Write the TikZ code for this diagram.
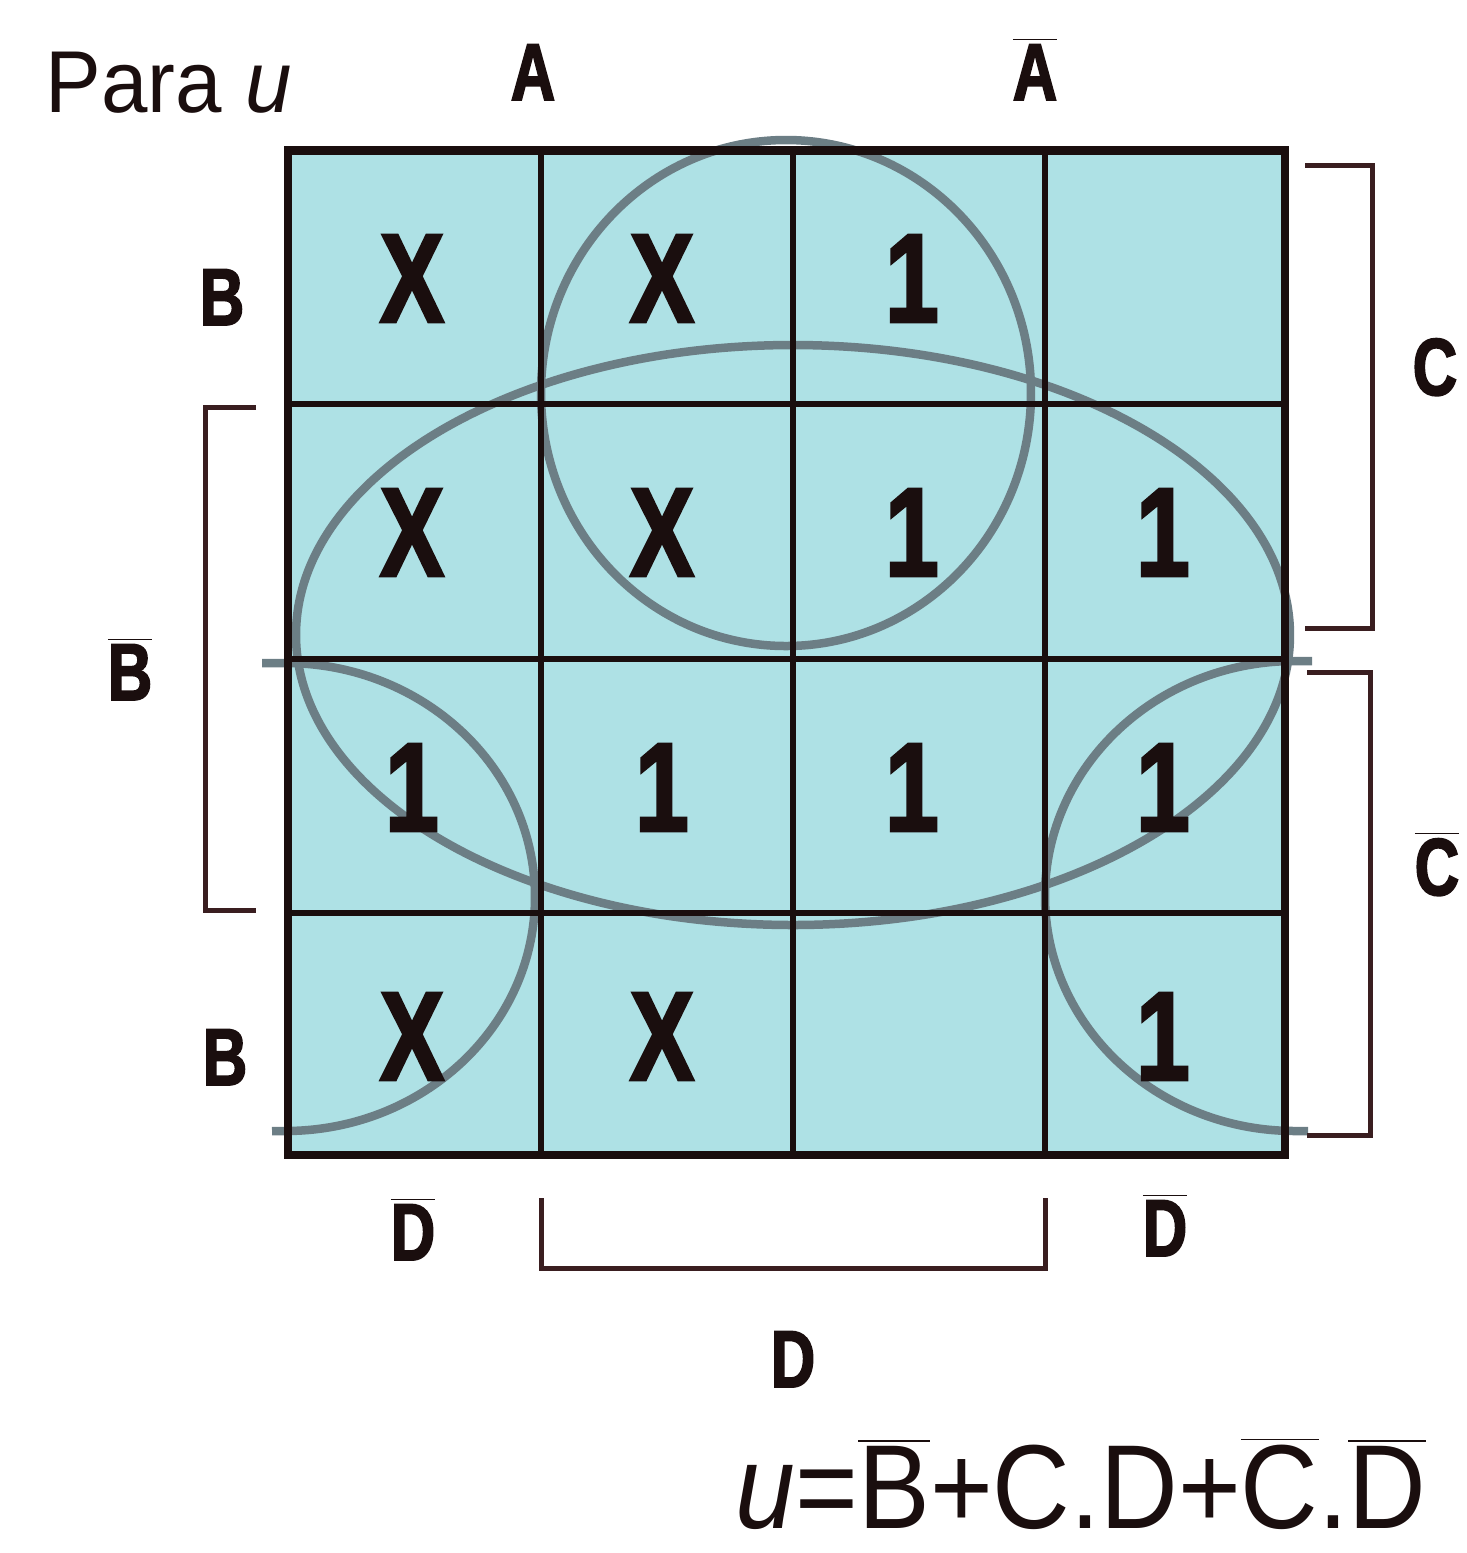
\documentclass[tikz,border=0pt]{standalone}
\usepackage{fontspec}
\newfontfamily\heavy[FakeStretch=0.76,FakeBold=2.2]{Liberation Sans}
\newfontfamily\condreg[FakeStretch=0.9]{Liberation Sans}
\newfontfamily\titlefont[FakeStretch=0.95]{Liberation Sans}
\newcommand\ovl[1]{$\overline{\mbox{#1}}$}
\definecolor{cellfill}{RGB}{174,225,229}
\definecolor{loopgray}{RGB}{108,126,133}
\definecolor{ink}{RGB}{26,14,14}
\definecolor{brk}{RGB}{58,30,32}
\tikzset{
  cellv/.style={font=\heavy\bfseries\fontsize{36}{40}\selectfont, text=ink, anchor=base, inner sep=0pt},
  lbl/.style={font=\heavy\bfseries\fontsize{23}{26}\selectfont, text=ink, anchor=base, inner sep=0pt},
  loopline/.style={draw=loopgray, line width=0.85mm},
  bracket/.style={draw=brk, line width=0.5mm},
  gridline/.style={draw=ink, line width=0.6mm},
}
\begin{document}
\begin{tikzpicture}[x=0.1mm,y=-0.1mm]
\useasboundingbox (0,0) rectangle (1467,1553);
% cell background
\fill[cellfill] (288,150) rectangle (1285,1155);
% loops
\draw[loopline] (786,393) ellipse [x radius=24.5mm, y radius=25.3mm];
\draw[loopline] (793,635) ellipse [x radius=49.7mm, y radius=29mm];
\draw[loopline] (262,663) -- (285,663) arc[start angle=90, end angle=-90, x radius=25mm, y radius=23.4mm] -- (272,1131);
\draw[loopline] (1312,661) -- (1295,661) arc[start angle=90, end angle=270, x radius=25mm, y radius=23.5mm] -- (1308,1131);
% grid
\foreach \x in {541,793,1045} \draw[gridline] (\x,150) -- (\x,1155);
\foreach \y in {404,659,913} \draw[gridline] (288,\y) -- (1285,\y);
\draw[draw=ink, line width=0.75mm] (288,150) rectangle (1285,1155);
\draw[draw=ink, line width=0.9mm] (288,150) -- (1285,150);
% cell values
\node[cellv] (c11) at (412,322) {X};
\node[cellv] (c12) at (662,322) {X};
\node[cellv] (c13) at (912,322) {1};
\node[cellv] (c21) at (412,576) {X};
\node[cellv] (c22) at (662,576) {X};
\node[cellv] (c23) at (912,576) {1};
\node[cellv] (c24) at (1163,576) {1};
\node[cellv] (c31) at (412,831) {1};
\node[cellv] (c32) at (662,831) {1};
\node[cellv] (c33) at (912,831) {1};
\node[cellv] (c34) at (1163,831) {1};
\node[cellv] (c41) at (412,1080) {X};
\node[cellv] (c42) at (662,1080) {X};
\node[cellv] (c44) at (1163,1080) {1};
% labels
\node[anchor=base west, inner sep=0pt, text=ink, font=\titlefont\fontsize{25}{28}\selectfont] (title) at (45,112) {Para \itshape u};
\node[lbl] (la) at (533,100) {A};
\node[lbl] (lna) at (1035,100) {\ovl{A}};
\node[lbl] (lb1) at (222,325) {B};
\node[lbl] (lnb) at (130,700) {\ovl{B}};
\node[lbl] (lb2) at (225,1085) {B};
\node[lbl] (lc) at (1435,395) {C};
\node[lbl] (lnc) at (1437,895) {\ovl{C}};
\node[lbl] (lnd1) at (413,1260) {\ovl{D}};
\node[lbl] (lnd2) at (1165,1256) {\ovl{D}};
\node[lbl] (ld) at (793,1387) {D};
% brackets
\draw[bracket] (1305,165) -- (1372,165) -- (1372,628) -- (1305,628);
\draw[bracket] (1307,672) -- (1370,672) -- (1370,1135) -- (1307,1135);
\draw[bracket] (256,407) -- (205,407) -- (205,910) -- (256,910);
\draw[bracket] (541,1198) -- (541,1268) -- (1045,1268) -- (1045,1198);
% formula
\node[anchor=base west, inner sep=0pt, text=ink, font=\condreg\fontsize{34}{38}\selectfont] (formula) at (735,1528) {\itshape u\upshape=\ovl{B}+C.D+\ovl{C}.\ovl{D}};
\end{tikzpicture}
\end{document}
